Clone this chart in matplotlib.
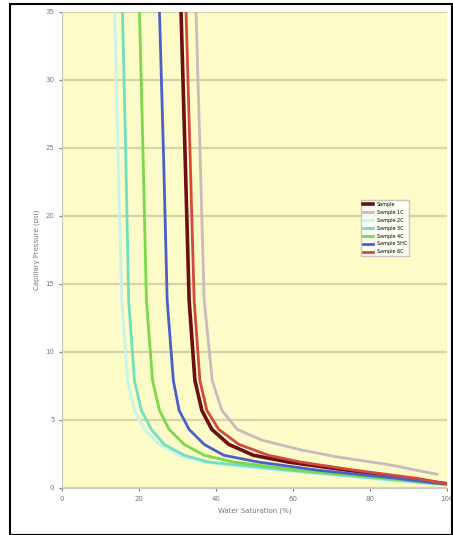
import matplotlib
matplotlib.use("Agg")
import matplotlib.pyplot as plt
from matplotlib.patches import Rectangle

# Curves: water saturation (%) and capillary pressure per sample
labels = ["Sample", "Sample 1C", "Sample 2C", "Sample 3C", "Sample 4C", "Sample 5HC", "Sample 6C"]
colors = ["#6b0f12", "#cdb8bd", "#c9f2ec", "#6fe0c0", "#7ad84a", "#4a5fc8", "#d24a3c"]
widths = [2.6, 2.0, 2.0, 2.0, 2.0, 2.0, 2.0]

pc_levels = [35.0, 25.0, 13.8, 7.9, 5.7, 4.3, 3.2, 2.4, 1.9, 1.3, 0.7, 0.3]

sat = [
    [30.9, 31.9, 33.0, 34.5, 36.3, 38.9, 43.3, 49.7, 58.8, 74.2, 89.7, 100.0],
    [34.8, 35.8, 36.9, 39.0, 41.5, 45.5, 52.0, 62.0, 71.0, 85.0, 97.4, 97.4],
    [13.7, 14.5, 15.5, 17.0, 18.8, 21.4, 25.3, 30.4, 37.0, 56.2, 79.4, 94.8],
    [15.7, 16.5, 17.3, 18.8, 20.6, 23.2, 26.5, 31.7, 38.0, 58.8, 82.0, 97.4],
    [20.1, 21.0, 21.9, 23.5, 25.3, 27.8, 31.7, 36.9, 44.6, 61.3, 84.5, 98.7],
    [25.3, 26.3, 27.3, 28.9, 30.4, 33.0, 36.9, 42.0, 51.0, 66.5, 87.1, 98.7],
    [32.2, 33.2, 34.3, 35.8, 37.6, 40.7, 45.9, 53.6, 62.0, 76.0, 92.3, 100.0],
]
pc = [list(pc_levels) for _ in sat]
# the grey curve stops higher up on the right
pc[1] = [35.0, 25.0, 13.8, 7.9, 5.7, 4.3, 3.5, 2.8, 2.3, 1.7, 1.0, 1.0]

xticks = [0, 20, 40, 60, 80, 100]
yticks = [0, 5, 10, 15, 20, 25, 30, 35]

fig = plt.figure(figsize=(4.53, 5.35), dpi=100)
fig.patches.append(Rectangle((0.022, 0.0), 0.975, 0.993, transform=fig.transFigure,
                             fill=False, edgecolor="black", linewidth=1.5))
ax = fig.add_axes([0.137, 0.088, 0.85, 0.89])
ax.set_facecolor("#fdfbc8")

for s, p, c, w, lab in zip(sat, pc, colors, widths, labels):
    ax.plot(s, p, color=c, linewidth=w, label=lab)

ax.set_xlim(0, 100)
ax.set_ylim(0, 35)
ax.set_xticks(xticks)
ax.set_yticks(yticks)
ax.tick_params(labelsize=5, colors="#777777", length=2)
ax.yaxis.grid(True, color="#d6d3a8", linewidth=1.6)
for side in ["top", "right"]:
    ax.spines[side].set_visible(False)
ax.spines["left"].set_color("#c8c8b8")
ax.spines["bottom"].set_color("#c8c8b8")

ax.set_xlabel("Water Saturation (%)", fontsize=5, color="#777777")
ax.set_ylabel("Capillary Pressure (psi)", fontsize=5, color="#777777")

ax.legend(loc="upper left", bbox_to_anchor=(0.77, 0.61), fontsize=3.5, frameon=True,
          fancybox=False, edgecolor="#bbbbbb", handlelength=2, labelspacing=0.6)

fig.savefig("out.png", dpi=100)
